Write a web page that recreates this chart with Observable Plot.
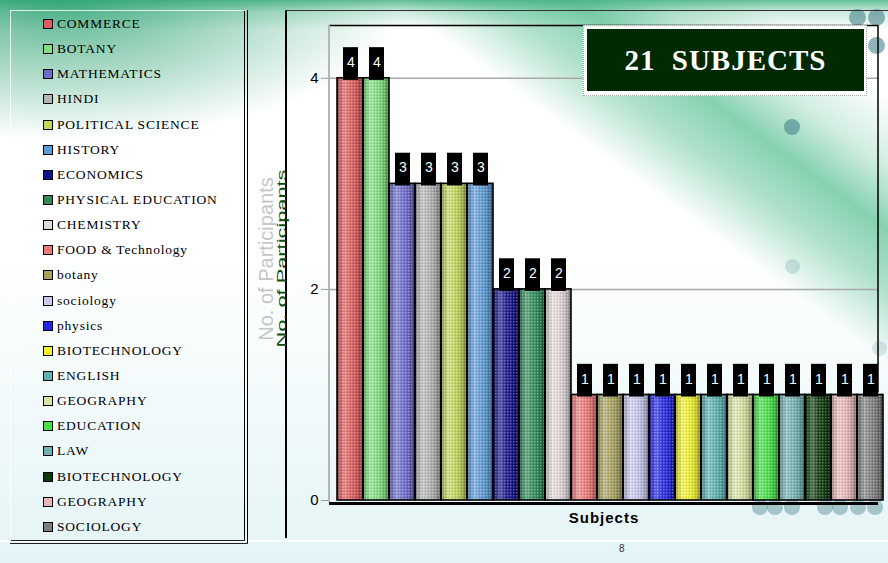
<!DOCTYPE html>
<html>
<head>
<meta charset="utf-8">
<script src="https://cdn.jsdelivr.net/npm/d3@7"></script>
<script src="https://cdn.jsdelivr.net/npm/@observablehq/plot@0.6"></script>
<style>
html, body { margin: 0; padding: 0; }
body {
  width: 888px; height: 563px; overflow: hidden; position: relative;
  font-family: "Liberation Sans", Arial, sans-serif;
  background:
    radial-gradient(ellipse 340px 140px at 60px 0px, rgba(40,160,110,0.8), rgba(40,160,110,0) 100%),
    linear-gradient(to bottom, rgba(60,175,125,0.8) 0px, rgba(60,175,125,0.25) 12px, rgba(60,175,125,0) 30px),
    linear-gradient(36deg, rgba(255,255,255,0) 70%, rgba(80,190,140,0.45) 76%, rgba(70,185,135,0.65) 81%, rgba(150,215,185,0.45) 86%, rgba(255,255,255,0) 92%),
    linear-gradient(to bottom, #ffffff 0%, #ffffff 45%, #e4f4f6 100%);
}
.abs { position: absolute; }
#legendBox {
  left: 10px; top: 10px; width: 233px; height: 529px;
  border-left: 1px solid rgba(255,255,255,0.8);
  border-top: 1px solid rgba(255,255,255,0.8);
  border-right: 4px double #000;
  border-bottom: 4px double #222;
}
#legend { left: 0; top: 11.5px; width: 240px; }
.item { position: relative; height: 25.15px; display: flex; align-items: center; }
.sw { position: absolute; left: 43px; width: 8px; height: 8px; border: 1.5px solid #000; }
.lab { position: absolute; left: 57px; font-family: "Liberation Serif", "Times New Roman", serif; font-size: 13.5px; letter-spacing: 0.8px; color: #000; white-space: nowrap; }
#chartLine { left: 285px; top: 10px; width: 2px; height: 528px; background: #000; }
#chartTop { left: 285px; top: 10px; width: 603px; height: 1px; background: #333; }
#titleOuter { left: 583px; top: 25px; width: 282px; height: 69px; border: 1px dotted #aaa; background: rgba(255,255,255,0.9); }
#titleBox { left: 587px; top: 29px; width: 277px; height: 62px; background: #012a02; color: #fff;
  font-family: "Liberation Serif", "Times New Roman", serif; font-weight: bold; font-size: 29px;
  display: flex; align-items: center; justify-content: center; letter-spacing: 1px; word-spacing: 8px; }
.circ { position: absolute; border-radius: 50%; background: rgba(70,130,140,0.6); }
#pagenum { left: 619px; top: 543px; font-size: 10px; color: #333; }
#footline { left: 0; top: 540px; width: 888px; height: 2px; background: rgba(255,255,255,0.9); }
#chart { left: 0; top: 0; }
</style>
</head>
<body>
<div id="footline" class="abs"></div>
<div class="circ" style="left:849px;top:9px;width:17px;height:17px"></div>
<div class="circ" style="left:868px;top:9px;width:17px;height:17px"></div>
<div class="circ" style="left:868px;top:37px;width:17px;height:17px"></div>
<div class="circ" style="left:784px;top:119px;width:16px;height:16px"></div>
<div class="circ" style="left:785px;top:259px;width:15px;height:15px;opacity:0.35"></div>
<div class="circ" style="left:872px;top:341px;width:15px;height:15px;opacity:0.3"></div>
<div class="circ" style="left:752px;top:499px;width:16px;height:16px;opacity:0.7"></div>
<div class="circ" style="left:767px;top:499px;width:16px;height:16px;opacity:0.7"></div>
<div class="circ" style="left:784px;top:499px;width:16px;height:16px;opacity:0.7"></div>
<div class="circ" style="left:817px;top:499px;width:16px;height:16px;opacity:0.7"></div>
<div class="circ" style="left:832px;top:499px;width:16px;height:16px;opacity:0.7"></div>
<div class="circ" style="left:850px;top:499px;width:16px;height:16px;opacity:0.7"></div>
<div class="circ" style="left:867px;top:499px;width:16px;height:16px;opacity:0.7"></div>

<div id="legendBox" class="abs"></div>
<div id="legend" class="abs"></div>
<div id="chartLine" class="abs"></div>
<div id="chartTop" class="abs"></div>
<div id="chart" class="abs"></div>
<div id="titleOuter" class="abs"></div>
<div id="titleBox" class="abs">21 SUBJECTS</div>
<div id="pagenum" class="abs">8</div>

<script>
// ---- data ----
const subjects = ["COMMERCE","BOTANY","MATHEMATICS","HINDI","POLITICAL SCIENCE","HISTORY","ECONOMICS",
  "PHYSICAL EDUCATION","CHEMISTRY","FOOD & Technology","botany","sociology","physics","BIOTECHNOLOGY",
  "ENGLISH","GEOGRAPHY","EDUCATION","LAW","BIOTECHNOLOGY","GEOGRAPHY","SOCIOLOGY"];
const participants = [4,4,3,3,3,3,2,2,2,1,1,1,1,1,1,1,1,1,1,1,1];
const barColors = ["#e05c5c","#80e080","#6b6bcc","#b4b4b4","#c3d65a","#5c9bd6","#12128a","#2e8b57",
  "#e2d9d9","#ee7878","#a9a25e","#c8c8f0","#2323e6","#f2f22e","#5ab2b2","#d8e2a2","#44e044",
  "#72b2b2","#0a3a0a","#e8b8b8","#7e7e7e"];
const yTicks = [0, 2, 4];
const title = "21 SUBJECTS";
const yLabel = "No. of Participants";
const xLabel = "Subjects";

const rows = subjects.map((s, i) => ({i, subject: s, v: participants[i], color: barColors[i]}));

// ---- legend ----
const legend = document.getElementById("legend");
rows.forEach(r => {
  const it = document.createElement("div"); it.className = "item";
  const sw = document.createElement("div"); sw.className = "sw"; sw.style.background = r.color;
  const lb = document.createElement("div"); lb.className = "lab"; lb.textContent = r.subject;
  it.appendChild(sw); it.appendChild(lb); legend.appendChild(it);
});
document.getElementById("titleBox").textContent = title;

// ---- chart ----
const chart = Plot.plot({
  width: 888, height: 563,
  marginLeft: 329, marginRight: 10, marginTop: 25, marginBottom: 63,
  style: {background: "transparent", fontFamily: "Liberation Sans, Arial, sans-serif", overflow: "visible"},
  x: {type: "band", domain: d3.range(subjects.length), range: [334, 885], padding: 0, axis: null},
  y: {domain: [0, 4.5], axis: null},
  color: {type: "identity"},
  marks: [
    Plot.gridY(yTicks.filter(t => t > 0), {stroke: "#a9a9a9", strokeOpacity: 1, strokeWidth: 1.5}),
    Plot.ruleY([4.5], {stroke: "#000", strokeWidth: 1.5}),
    Plot.axisY(yTicks, {tickSize: 8, tickPadding: 3, stroke: "#999", fill: "#000", fontSize: 15, label: null, tickFormat: d => String(d)}),
    Plot.barY(rows, {x: "i", y: "v", fill: "color"}),
    Plot.barY(rows, {x: "i", y: "v", fill: "url(#cyl)"}),
    Plot.barY(rows, {x: "i", y: "v", fill: "url(#tex)"}),
    Plot.barY(rows, {x: "i", y: "v", fill: "none", stroke: "#000", strokeWidth: 1.6}),
    Plot.ruleY([0], {stroke: "#000", strokeWidth: 3, dy: 3}),
    Plot.barY(rows, {x: "i", y1: d => d.v - 0.02, y2: d => d.v + 0.29, fill: "#000", insetLeft: 6, insetRight: 5}),
    Plot.text(rows, {x: "i", y: d => d.v + 0.15, dx: 0.5, text: d => String(d.v), fill: "#fff", fontSize: 14}),
    Plot.text([yLabel], {frameAnchor: "left", dx: -63, dy: -4, rotate: -90, textAnchor: "middle", fontSize: 20, fill: "#c6c6c6"}),
    Plot.text([xLabel], {frameAnchor: "bottom", dy: 22, fontSize: 15, fontWeight: "bold", fill: "#000"})
  ]
});
document.getElementById("chart").appendChild(chart);

// gradient/pattern definitions, side frame lines, overlapped label
const svg = d3.select(chart);
const defs = svg.insert("defs", ":first-child");
const g = defs.append("linearGradient").attr("id", "cyl").attr("x1", 0).attr("x2", 1).attr("y1", 0).attr("y2", 0);
[[0, "#000", 0.25], [0.28, "#fff", 0.3], [0.5, "#fff", 0.08], [0.8, "#000", 0.15], [1, "#000", 0.45]]
  .forEach(([o, c, a]) => g.append("stop").attr("offset", o).attr("stop-color", c).attr("stop-opacity", a));
const p = defs.append("pattern").attr("id", "tex").attr("width", 3).attr("height", 3).attr("patternUnits", "userSpaceOnUse");
p.append("rect").attr("width", 1.5).attr("height", 1.5).attr("fill", "#fff").attr("opacity", 0.3);
p.append("rect").attr("x", 1.5).attr("y", 1.5).attr("width", 1.5).attr("height", 1.5).attr("fill", "#000").attr("opacity", 0.12);

svg.selectAll("text").filter(function () { return this.textContent === xLabel; }).attr("letter-spacing", "1px");

const ys = chart.scale("y");
const yTop = ys.apply(4.5), yBot = ys.apply(0);
svg.append("line").attr("x1", 329).attr("x2", 329).attr("y1", yTop).attr("y2", yBot + 2)
  .attr("stroke", "#b5b5b5").attr("stroke-width", 2);
svg.append("line").attr("x1", 878).attr("x2", 878).attr("y1", yTop).attr("y2", ys.apply(1) - 2)
  .attr("stroke", "#000").attr("stroke-width", 1.5);
svg.append("text").attr("transform", `translate(281,${(yTop + yBot) / 2 - 4}) rotate(-90)`)
  .attr("text-anchor", "middle").attr("dy", "0.35em").attr("font-size", 13).attr("fill", "#0b4d0b")
  .attr("textLength", 178).attr("lengthAdjust", "spacingAndGlyphs").text(yLabel);
</script>
</body>
</html>
